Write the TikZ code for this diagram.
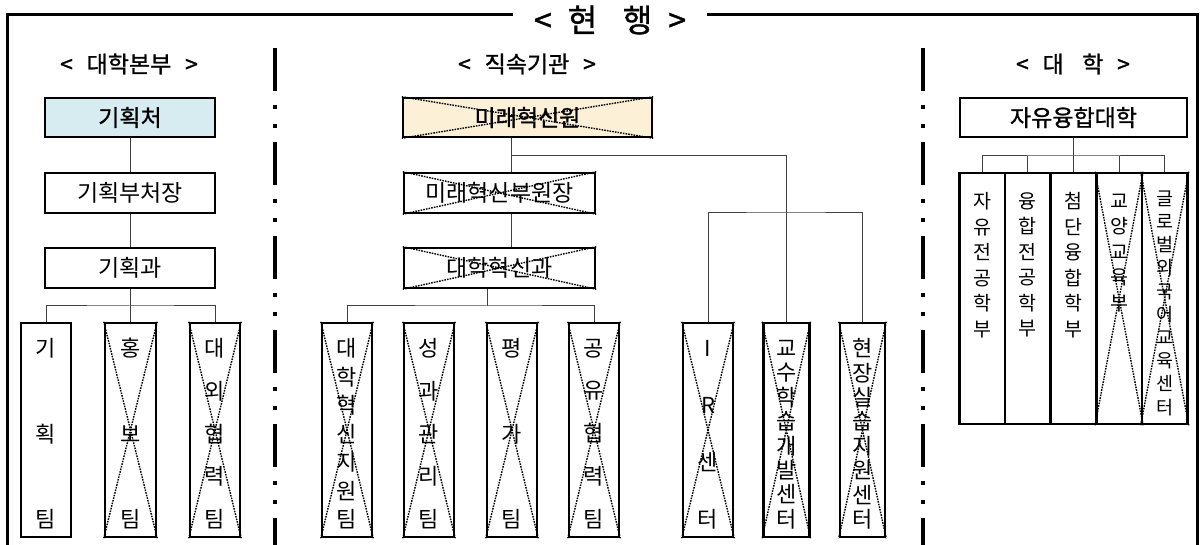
\documentclass[tikz,border=0pt]{standalone}
\usepackage{fontspec}
\setmainfont{Noto Sans CJK KR}
\newfontfamily\krbold[FakeBold=1.2]{Noto Sans CJK KR}
\makeatletter
% distributed vertical text (bottom boxes)
\newcommand\vdist[1]{%
  \vbox to 197.6pt{\vskip 8.6pt\let\vs@sep\relax
    \@for\vs@c:=#1\do{\vs@sep\hbox to 30pt{\hss\vrule height .8em depth .12em width 0pt\vs@c\hss}\let\vs@sep\vfill}}}
% top aligned vertical text (college boxes)
\newcommand\vtopl[3]{%
  \vbox to 240pt{\vskip #1\baselineskip=#2\relax\lineskiplimit=-50pt
    \@for\vs@c:=#3\do{\hbox to 30pt{\hss\vrule height .8em depth .12em width 0pt\vs@c\hss}}\vss}}
\makeatother
\definecolor{lblue}{RGB}{215,236,240}
\definecolor{cream}{RGB}{252,240,214}
\tikzset{
  frameline/.style={line width=3pt},
  divider/.style={line width=3.5pt, dash pattern=on 43pt off 14pt on 4pt off 15pt on 4pt off 14pt},
  box/.style={draw, line width=2.5pt, inner sep=0pt, font=\fontsize{23}{26}\selectfont},
  topbox/.style={box, minimum height=39pt, font=\krbold\fontsize{23}{26}\selectfont},
  midbox/.style={box, minimum height=40pt},
  tallbox/.style={box, minimum width=50pt, minimum height=214pt, font=\fontsize{22}{24}\selectfont},
  colbox/.style={box, minimum width=45.6pt, minimum height=251pt, font=\fontsize{19.5}{24}\selectfont},
  hdr/.style={font=\krbold\fontsize{23}{26}\selectfont, inner sep=0pt},
  conn/.style={line width=1pt, black!75},
  xline/.style={line width=1.4pt, dash pattern=on 1.6pt off 1.1pt},
}
\begin{document}
\begin{tikzpicture}[x=1pt,y=-1pt]
\useasboundingbox (0,0) rectangle (1200,545);

% frame and title
\node[font=\krbold\fontsize{32}{34}\selectfont, minimum width=194pt, inner sep=0pt] (ttl) at (610,20) {<\hspace{0.5em}현\hspace{0.8em}행\hspace{0.5em}>};
\coordinate (tl) at (7,15);
\coordinate (bl) at (7,548);
\coordinate (tr) at (1197,15);
\coordinate (br) at (1197,548);
\draw[frameline] (ttl.west |- tl) -- (tl) -- (bl);
\draw[frameline] (ttl.east |- tr) -- (tr) -- (br);

% dividers
\coordinate (d1t) at (275,48);
\coordinate (d1b) at (275,548);
\coordinate (d2t) at (923,48);
\coordinate (d2b) at (923,548);
\draw[divider] (d1t) -- (d1b);
\draw[divider] (d2t) -- (d2b);

% headers
\node[hdr] (h1) at (129,64) {<\hspace{0.6em}대학본부\hspace{0.6em}>};
\node[hdr] (h2) at (527,64) {<\hspace{0.6em}직속기관\hspace{0.6em}>};
\node[hdr] (h3) at (1073,64) {<\hspace{0.6em}대\hspace{0.8em}학\hspace{0.6em}>};

% ---------- left: 대학본부 ----------
\node[topbox, fill=lblue, minimum width=170pt] (kc) at (130,117.5) {기획처};
\node[midbox, minimum width=170pt] (kb) at (130,193) {기획부처장};
\node[midbox, minimum width=170pt] (kg) at (130,268) {기획과};
\node[tallbox] (t1) at (46,430) {\vdist{기,획,팀}};
\node[tallbox, minimum width=51pt] (t2) at (130.5,430) {\vdist{홍,보,팀}};
\node[tallbox] (t3) at (215,430) {\vdist{대,외,협,력,팀}};

\draw[conn] (kc.south -| kb.north) -- (kb.north);
\draw[conn] (kb.south) -- (kg.north);
\coordinate (bL) at (130,306);
\draw[conn] (kg.south -| bL) -- (bL);
\draw[conn] (t1.north) |- (bL) -| (t3.north);
\draw[conn] (bL) -- (bL |- t2.north);

% ---------- middle: 직속기관 ----------
\node[topbox, fill=cream, minimum width=249pt] (mr) at (527.5,117.5) {미래혁신원};
\node[midbox, minimum width=191pt] (mb) at (499.5,193) {미래혁신부원장};
\node[midbox, minimum width=191pt] (dh) at (499.5,268) {대학혁신과};
\node[tallbox] (m1) at (347,430) {\vdist{대,학,혁,신,지,원,팀}};
\node[tallbox] (m2) at (429,430) {\vdist{성,과,관,리,팀}};
\node[tallbox] (m3) at (512,430) {\vdist{평,가,팀}};
\node[tallbox] (m4) at (594,430) {\vdist{공,유,협,력,팀}};
\node[tallbox] (c1) at (708,430) {\vdist{I,R,센,터}};
\node[tallbox, minimum width=46pt] (c2) at (786.3,430) {\vdist{교,수,학,습,개,발,센,터}};
\node[tallbox, minimum width=45pt] (c3) at (862.5,430) {\vdist{현,장,실,습,지,원,센,터}};

\coordinate (j1) at (511,156);
\draw[conn] (j1 |- mr.south) -- (j1 |- mb.north);
\draw[conn] (j1) -| (c2.north);
\draw[conn] (j1 |- mb.south) -- (j1 |- dh.north);
\coordinate (j2) at (487,306);
\draw[conn] (j2 |- dh.south) -- (j2);
\draw[conn] (m1.north) |- (j2) -| (m4.north);
\coordinate (j3) at (786.3,213);
\draw[conn] (c1.north) |- (j3) -| (c3.north);

% ---------- right: 대학 ----------
\node[topbox, minimum width=227pt] (jy) at (1073.5,117.5) {자유융합대학};
\node[colbox] (u1) at (982.3,298.5) {\vtopl{14pt}{25.5pt}{자,유,전,공,학,부}};
\node[colbox] (u2) at (1027.9,298.5) {\vtopl{14pt}{25.5pt}{융,합,전,공,학,부}};
\node[colbox] (u3) at (1073.5,298.5) {\vtopl{14pt}{25.5pt}{첨,단,융,합,학,부}};
\node[colbox] (u4) at (1119.1,298.5) {\vtopl{14pt}{25.5pt}{교,양,교,육,부}};
\node[colbox, font=\fontsize{18.5}{24}\selectfont] (u5) at (1164.7,298.5) {\vtopl{12pt}{23.2pt}{글,로,벌,외,국,어,교,육,센,터}};

\coordinate (j4) at (1073.5,156);
\draw[conn] (jy.south) -- (j4);
\draw[conn] (u1.north) |- (j4) -| (u5.north);
\draw[conn] (u2.north) -- (u2.north |- j4);
\draw[conn] (u3.north) -- (j4);
\draw[conn] (u4.north) -- (u4.north |- j4);

% ---------- crossed-out boxes ----------
\foreach \n in {mr,mb,dh,t2,t3,m1,m2,m3,m4,c1,c2,c3,u4,u5}{
  \draw[xline] (\n.north west) -- (\n.south east) (\n.north east) -- (\n.south west);
}
\end{tikzpicture}
\end{document}
